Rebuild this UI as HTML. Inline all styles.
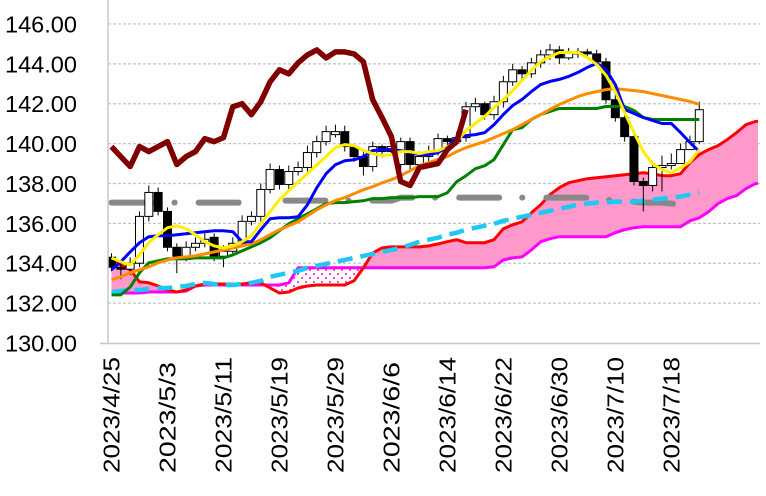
<!DOCTYPE html>
<html><head><meta charset="utf-8"><style>
html,body{margin:0;padding:0;background:#fff;}
svg{display:block;font-family:"Liberation Sans","Noto Sans CJK JP",sans-serif;}
</style></head><body>
<svg id="chart" width="766" height="496" viewBox="0 0 766 496" xmlns="http://www.w3.org/2000/svg">
<defs>
<pattern id="dots" width="8" height="8" patternUnits="userSpaceOnUse">
<rect width="8" height="8" fill="#fff"/><circle cx="2" cy="2" r="1.1" fill="#ff33cc"/><circle cx="6" cy="6" r="1.1" fill="#ff33cc"/>
</pattern>
<clipPath id="plotClip"><rect x="108" y="0" width="650" height="343"/></clipPath>
</defs>
<g id="grid"></g>
<g id="ylabels"></g>
<g id="xlabels"></g>
<g id="plot" clip-path="url(#plotClip)"></g>
<line x1="108" y1="0" x2="108" y2="343" stroke="#c8c8c8" stroke-width="1.5"/>
<line x1="100" y1="343.5" x2="760" y2="343.5" stroke="#c8c8c8" stroke-width="1.5"/>
</svg>
<script>
const yTicks = [130,132,134,136,138,140,142,144,146];
const dateLabels = ["2023/4/25","2023/5/3","2023/5/11","2023/5/19","2023/5/29","2023/6/6","2023/6/14","2023/6/22","2023/6/30","2023/7/10","2023/7/18"];
const labelStep = 6;
const opens = [134.3,133.8,133.7,134.0,136.35,137.55,136.6,134.8,134.35,134.8,135.0,135.3,134.35,134.6,135.0,136.1,136.35,137.7,138.7,137.95,138.6,138.8,139.55,140.1,140.45,140.6,139.85,139.35,138.85,139.85,139.6,138.95,140.1,138.95,139.35,139.6,140.25,140.1,140.3,141.85,142.0,141.45,142.1,143.1,143.7,143.5,144.05,144.45,144.7,144.3,144.5,144.6,144.5,144.1,142.2,141.3,140.35,138.1,137.9,138.8,138.9,139.0,139.7,140.1];
const closes = [133.8,133.7,134.0,136.35,137.55,136.6,134.8,134.35,134.8,135.0,135.2,134.35,134.6,135.0,136.1,136.35,137.7,138.7,137.95,138.6,138.8,139.55,140.1,140.6,140.6,139.85,139.35,138.85,139.85,139.6,139.85,140.1,138.95,139.35,139.6,140.25,140.1,140.3,141.85,142.0,141.45,142.1,143.1,143.7,143.5,144.05,144.45,144.7,144.3,144.6,144.6,144.5,144.1,142.2,141.3,140.35,138.1,137.9,138.8,138.9,139.0,139.7,140.1,141.7];
const highs = [134.5,134.0,134.3,136.6,137.9,137.8,136.8,135.0,135.1,135.3,135.5,135.5,134.9,135.3,136.4,136.6,138.0,139.0,138.9,138.9,139.1,139.9,140.4,140.9,140.95,140.9,139.9,139.6,140.1,139.95,140.1,140.3,140.3,139.6,139.9,140.5,140.4,140.6,142.1,142.3,142.1,142.4,143.4,144.0,143.9,144.3,144.7,145.0,144.9,144.8,144.8,144.75,144.7,144.3,142.5,141.5,140.6,138.3,139.0,139.4,139.5,140.0,140.4,142.1];
const lows = [133.6,133.2,133.4,133.8,136.1,136.4,134.6,133.5,134.1,134.6,134.8,134.1,133.8,134.4,134.8,135.9,136.1,137.5,137.7,137.7,138.4,138.6,139.3,139.9,140.3,139.6,139.1,138.4,138.6,139.3,139.4,138.7,138.7,138.7,139.1,139.4,139.8,139.9,140.1,141.6,141.2,141.2,141.8,142.9,143.2,143.3,143.8,144.2,144.0,144.2,144.3,144.3,143.9,142.0,141.1,140.1,137.9,136.6,137.6,137.6,138.7,139.5,139.9,140.0];
const tenkan = [133.67,134.07,134.57,135.03,135.33,135.38,135.38,135.43,135.48,135.53,135.58,135.63,135.63,135.58,135.08,135.08,135.68,136.23,136.28,136.28,136.33,136.93,137.79,138.49,138.94,139.14,139.19,139.35,139.65,139.70,139.70,139.65,139.55,139.45,139.45,139.55,139.85,140.30,140.40,140.45,140.55,140.95,141.46,141.91,142.21,142.61,142.96,143.12,143.22,143.37,143.57,143.82,144.02,143.72,142.96,141.71,141.51,141.31,141.16,141.01,141.01,140.55,140.05,139.60];
const kijun = [132.41,132.41,132.81,133.52,134.02,134.12,134.22,134.22,134.22,134.27,134.27,134.27,134.27,134.42,134.62,134.82,135.03,135.28,135.63,135.98,136.23,136.48,136.73,136.99,137.04,137.04,137.09,137.13,137.24,137.24,137.29,137.29,137.29,137.34,137.34,137.34,137.54,138.09,138.39,138.74,138.89,139.20,139.95,140.70,140.80,141.21,141.46,141.61,141.76,141.76,141.76,141.76,141.76,141.86,141.86,141.86,141.66,141.31,141.21,141.21,141.21,141.21,141.21,141.21];
const ma5 = [134.27,134.07,133.92,134.42,135.03,135.43,135.78,135.88,135.73,135.43,135.08,134.87,134.77,134.87,135.08,135.38,135.98,136.58,137.19,137.64,138.09,138.49,138.94,139.35,139.80,139.95,139.90,139.65,139.50,139.40,139.45,139.60,139.60,139.50,139.60,139.65,139.85,140.10,140.65,141.01,141.36,141.81,142.21,142.66,143.17,143.67,144.12,144.37,144.57,144.57,144.57,144.32,143.97,143.42,142.61,141.56,140.55,139.60,138.99,138.69,138.54,138.79,139.09,139.70];
const ma25 = [133.17,133.32,133.52,133.67,133.82,134.02,134.17,134.27,134.32,134.37,134.47,134.57,134.67,134.77,134.87,134.97,135.18,135.43,135.68,135.88,136.08,136.38,136.68,136.93,137.14,137.29,137.49,137.69,137.84,138.04,138.19,138.39,138.64,138.89,139.05,139.20,139.35,139.60,139.80,139.95,140.10,140.30,140.50,140.70,140.95,141.21,141.46,141.71,141.96,142.16,142.36,142.51,142.61,142.71,142.76,142.71,142.66,142.61,142.51,142.41,142.31,142.21,142.11,141.96];
const spanA = [134.17,133.92,133.67,133.07,133.02,132.86,132.66,132.56,132.66,132.86,132.96,132.96,132.96,132.96,132.96,133.02,133.02,132.76,132.51,132.56,132.76,132.86,132.91,132.91,132.91,132.91,133.12,133.77,134.52,134.77,134.82,134.82,134.82,134.82,134.87,134.97,135.08,135.18,135.03,135.03,135.03,135.18,135.73,135.93,136.08,136.53,136.93,137.44,137.79,138.04,138.14,138.24,138.29,138.34,138.39,138.44,138.49,138.54,138.49,138.39,138.39,138.49,139.05,139.45,139.70,139.90,140.20,140.55,140.95,141.11,141.16];
const spanB = [132.51,132.51,132.51,132.51,132.56,132.56,132.56,132.56,132.61,132.86,132.91,132.91,132.91,132.91,132.91,132.91,132.91,132.91,132.91,133.02,133.77,133.77,133.77,133.77,133.77,133.77,133.77,133.77,133.77,133.77,133.77,133.77,133.77,133.77,133.77,133.77,133.77,133.77,133.77,133.77,133.77,133.82,134.17,134.27,134.32,134.67,135.08,135.23,135.33,135.33,135.33,135.33,135.33,135.33,135.53,135.68,135.78,135.83,135.83,135.83,135.83,135.83,136.13,136.28,136.58,136.99,137.24,137.39,137.74,137.99,138.04];
const trendCyan = [132.56,132.61,132.66,132.66,132.71,132.76,132.76,132.81,132.86,132.96,133.02,132.96,132.91,132.91,132.96,133.02,133.12,133.32,133.42,133.52,133.62,133.77,133.87,133.97,134.07,134.17,134.27,134.37,134.47,134.57,134.67,134.77,134.92,135.08,135.18,135.28,135.43,135.53,135.68,135.78,135.88,135.98,136.13,136.23,136.33,136.43,136.53,136.63,136.73,136.83,136.93,136.99,137.04,137.04,137.09,137.09,137.09,137.14,137.19,137.24,137.29,137.34,137.44,137.54];
const longMA = [137.04,137.04,137.04,137.04,137.04,137.04,137.04,137.04,137.04,137.04,137.04,137.04,137.04,137.04,137.04,137.04,137.14,137.14,137.14,137.14,137.14,137.14,137.14,137.14,137.14,137.14,137.14,137.14,137.14,137.14,137.14,137.29,137.29,137.29,137.29,137.29,137.29,137.29,137.29,137.29,137.29,137.29,137.29,137.29,137.29,137.29,137.29,137.29,137.29,137.29,137.29,137.29,137.29,137.19,137.14,137.09,137.09,137.04,137.04,137.04,136.99,136.99,136.99];
const chikouShift = 25;

const NS = "http://www.w3.org/2000/svg";
const X0 = 111.5, DX = 9.33, YB = 343, PMIN = 130, PPX = 19.94;
function xs(i){ return X0 + DX*i; }
function ys(p){ return YB - (p - PMIN)*PPX; }
function mk(tag, attrs, parent){
  const e = document.createElementNS(NS, tag);
  for (const k in attrs) e.setAttribute(k, attrs[k]);
  parent.appendChild(e); return e;
}
function pts(arr){ return arr.map((v,i)=>xs(i).toFixed(1)+","+ys(v).toFixed(1)).join(" "); }

const grid = document.getElementById('grid');
const yl = document.getElementById('ylabels');
yTicks.forEach(t=>{
  if (t > PMIN){
    const g = mk('line',{x1:108,x2:760,y1:ys(t),y2:ys(t),stroke:'#c4c4c4','stroke-width':1.2,'stroke-dasharray':'3 2'},grid);
    
    
  }
  const tx = mk('text',{x:77,y:ys(t)+8.5,'text-anchor':'end','font-size':23,fill:'#000',textLength:72,lengthAdjust:'spacingAndGlyphs'},yl);
  tx.textContent = t.toFixed(2);
  
  
});
const xl = document.getElementById('xlabels');
dateLabels.forEach((d,k)=>{
  const cx = xs(k*labelStep) + 8;
  const tx = mk('text',{x:0,y:0,transform:`translate(${cx.toFixed(1)},473) rotate(-90)`,'font-size':23,fill:'#000',textLength:(d.length>=9?116:111),lengthAdjust:'spacingAndGlyphs'},xl);
  tx.textContent = d;
  
  
});

const plot = document.getElementById('plot');
const defs = document.querySelector('defs');
const n = spanA.length, xe = xs(n-1).toFixed(1), xb = xs(0).toFixed(1);
const cA = mk('clipPath',{id:'aboveA'},defs);
mk('polygon',{points:pts(spanA)+` ${xe},0 ${xb},0`},cA);
const cB = mk('clipPath',{id:'aboveB'},defs);
mk('polygon',{points:pts(spanB)+` ${xe},0 ${xb},0`},cB);
const fillPink = mk('polygon',{points:pts(spanA)+` ${xe},343 ${xb},343`,fill:'#ff99cc','clip-path':'url(#aboveB)'},plot);


const fillDots = mk('polygon',{points:pts(spanB)+` ${xe},343 ${xb},343`,fill:'url(#dots)','clip-path':'url(#aboveA)'},plot);



function line(arr, color, w, name, extra){
  const a = Object.assign({points:pts(arr),fill:'none',stroke:color,'stroke-width':w,'stroke-linejoin':'round'}, extra||{});
  const e = mk('polyline',a,plot);
  
  
  return e;
}
line(spanB,'#ff00ff',3,'senkou-span-b');
line(spanA,'#ff0000',3,'senkou-span-a');
line(longMA,'#888888',6,'long-moving-average',{'stroke-dasharray':'40 23 0.1 24','stroke-linecap':'round'});
line(trendCyan,'#1ec8f5',4.5,'cyan-trend-line',{'stroke-dasharray':'15 8'});

const cg = mk('g',{},plot);


closes.forEach((c,i)=>{
  const o = opens[i], x = xs(i);
  const wk = mk('line',{x1:x,x2:x,y1:ys(highs[i]),y2:ys(lows[i]),stroke:'#000','stroke-width':1},cg);
  
  
  const top = ys(Math.max(o,c)), bot = ys(Math.min(o,c));
  const b = mk('rect',{x:x-4,y:top,width:8,height:Math.max(1,bot-top),fill:(c>=o?'#fff':'#000'),stroke:'#000','stroke-width':1},cg);
  
  
});

line(kijun,'#008000',3,'kijun-sen');
line(ma25,'#ff8c00',3,'ma-25');
line(tenkan,'#0000ff',3,'tenkan-sen');
line(ma5,'#ffee00',3,'ma-5');
const chikou = closes.slice(chikouShift);
line(chikou,'#800000',5.5,'chikou-span');
</script>
</body></html>
